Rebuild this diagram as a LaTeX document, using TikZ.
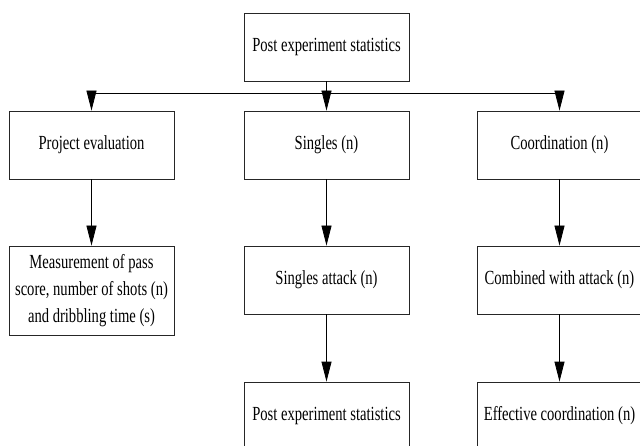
\documentclass[tikz,border=0pt]{standalone}
\usepackage{fontspec}
\setmainfont{Liberation Serif}[FakeStretch=0.73]
\usetikzlibrary{arrows.meta}
\begin{document}
\begin{tikzpicture}[x=1pt,y=-1pt,
  box/.style={draw=black!85, line width=0.8pt, rectangle, inner sep=0pt,
    minimum width=165pt, minimum height=68pt, align=center,
    font=\fontsize{20}{27}\selectfont},
  arr/.style={line width=0.8pt, -{Triangle[length=20pt,width=10pt]}},
  ln/.style={line width=0.8pt}]
\useasboundingbox (0,0) rectangle (640,446);
\clip (0,0) rectangle (640,446);
\node[box] (top) at (326.5,47) {Post experiment statistics};
\node[box] (b1) at (91.5,145) {Project evaluation};
\node[box] (b2) at (326.5,145) {Singles (n)};
\node[box] (b3) at (559.5,145) {Coordination (n)};
\node[box, minimum height=89pt] (b4) at (91.5,290.5) {Measurement of pass\\score, number of shots (n)\\and dribbling time (s)};
\node[box] (b5) at (326.5,280) {Singles attack (n)};
\node[box] (b6) at (559.5,280) {Combined with attack (n)};
\node[box] (b7) at (326.5,416) {Post experiment statistics};
\node[box] (b8) at (559.5,416) {Effective coordination (n)};
\coordinate (hl) at (91.5,93);
\coordinate (hr) at (559.5,93);
\draw[ln] (hl) -- (hr);
\draw[arr] (top.south) -- (b2.north);
\draw[arr] (hl) -- (b1.north);
\draw[arr] (hr) -- (b3.north);
\draw[arr] (b1.south) -- (b4.north);
\draw[arr] (b2.south) -- (b5.north);
\draw[arr] (b3.south) -- (b6.north);
\draw[arr] (b5.south) -- (b7.north);
\draw[arr] (b6.south) -- (b8.north);
\end{tikzpicture}
\end{document}
